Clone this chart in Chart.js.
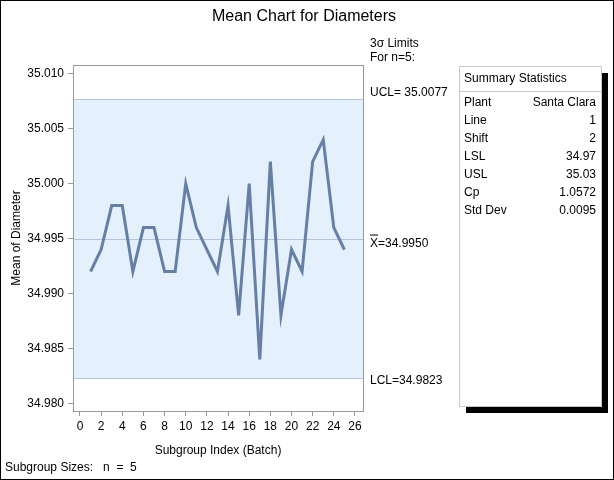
<!DOCTYPE html>
<html>
<head>
<meta charset="utf-8">
<script src="https://cdn.jsdelivr.net/npm/chart.js@4"></script>
<style>
  html, body { margin: 0; padding: 0; background: #fff; }
  #wrap { width: 614px; height: 480px; position: relative; }
</style>
</head>
<body>
<div id="wrap"><canvas id="xbar"></canvas></div>
<script>
const subgroups = [1,2,3,4,5,6,7,8,9,10,11,12,13,14,15,16,17,18,19,20,21,22,23,24,25]
const means = [34.992,34.994,34.998,34.998,34.992,34.996,34.996,34.992,34.992,35.000,
               34.996,34.994,34.992,34.998,34.988,35.000,34.984,35.002,34.988,34.994,
               34.992,35.002,35.004,34.996,34.994]
const limitNames = ["UCL", "Center", "LCL"]
const limitValues = [35.0077, 34.9950, 34.9823]
const statLabels = ["Plant", "Line", "Shift", "LSL", "USL", "Cp", "Std Dev"]
const statValues = ["Santa Clara", "1", "2", "34.97", "35.03", "1.0572", "0.0095"]

const FONT = "'Liberation Sans', Arial, sans-serif"

const extras = {
  id: "extras",
  beforeDatasetsDraw(chart) {
    const ctx = chart.ctx, a = chart.chartArea, y = chart.scales.y
    const yU = y.getPixelForValue(limitValues[0])
    const yL = y.getPixelForValue(limitValues[2])
    const yC = y.getPixelForValue(limitValues[1])
    ctx.save()
    ctx.fillStyle = "#e5f0fd"
    ctx.fillRect(a.left, yU, a.right - a.left, yL - yU)
    ctx.strokeStyle = "#b4c4db"
    ctx.lineWidth = 1
    ;[yU, yC, yL].forEach(p => {
      ctx.beginPath()
      ctx.moveTo(a.left, Math.round(p) + 0.5)
      ctx.lineTo(a.right, Math.round(p) + 0.5)
      ctx.stroke()
    })
    ctx.restore()
  },
  afterDraw(chart) {
    const ctx = chart.ctx, a = chart.chartArea, y = chart.scales.y
    ctx.save()
    // plot frame
    ctx.strokeStyle = "#999"
    ctx.lineWidth = 1
    ctx.strokeRect(Math.round(a.left) + 0.5, Math.round(a.top) + 0.5,
                   Math.round(a.right - a.left), Math.round(a.bottom - a.top))
    // outer border
    ctx.strokeStyle = "#000"
    ctx.strokeRect(0.5, 0.5, 613, 479)

    ctx.fillStyle = "#000"
    ctx.textBaseline = "middle"
    // title
    ctx.font = "16px " + FONT
    ctx.textAlign = "center"
    ctx.fillText("Mean Chart for Diameters", 304, 17)

    // limit labels
    ctx.font = "12px " + FONT
    ctx.textAlign = "left"
    const lx = a.right + 7
    ctx.fillText("3\u03C3 Limits", lx, 44)
    ctx.fillText("For n=5:", lx, 58)
    ctx.fillText("UCL= " + limitValues[0].toFixed(4), lx, y.getPixelForValue(limitValues[0]) - 6)
    const cy = y.getPixelForValue(limitValues[1]) + 5
    const xt = "X"
    ctx.fillText(xt + "=" + limitValues[1].toFixed(4), lx, cy)
    const xw = ctx.measureText(xt).width
    ctx.beginPath()
    ctx.moveTo(lx, cy - 8.5)
    ctx.lineTo(lx + xw, cy - 8.5)
    ctx.strokeStyle = "#000"
    ctx.stroke()
    ctx.fillText("LCL=" + limitValues[2].toFixed(4), lx, y.getPixelForValue(limitValues[2]) + 3)

    // summary box with shadow
    const bx = 459, by = 66, bw = 142, bh = 340
    ctx.fillStyle = "#000"
    ctx.fillRect(bx + 7, by + 7, bw, bh)
    ctx.fillStyle = "#fff"
    ctx.fillRect(bx, by, bw, bh)
    ctx.strokeStyle = "#c8c8c8"
    ctx.strokeRect(bx + 0.5, by + 0.5, bw, bh)
    ctx.beginPath()
    ctx.moveTo(bx, by + 25.5)
    ctx.lineTo(bx + bw, by + 25.5)
    ctx.stroke()
    ctx.fillStyle = "#000"
    ctx.fillText("Summary Statistics", bx + 5, by + 13)
    statLabels.forEach((lab, i) => {
      const ry = by + 37 + i * 18
      ctx.textAlign = "left"
      ctx.fillText(lab, bx + 5, ry)
      ctx.textAlign = "right"
      ctx.fillText(statValues[i], bx + bw - 5, ry)
    })

    // subgroup sizes
    ctx.textAlign = "left"
    ctx.fillText("Subgroup Sizes:   n  =  5", 5, 468)
    ctx.restore()
  }
}

new Chart("xbar", {
  type: "line",
  data: {
    datasets: [{
      data: subgroups.map((s, i) => ({x: s, y: means[i]})),
      borderColor: "#667fa4",
      borderWidth: 3,
      pointRadius: 0,
      fill: false,
      tension: 0
    }]
  },
  options: {
    responsive: true,
    maintainAspectRatio: false,
    animation: false,
    layout: { padding: { left: 5, right: 251, top: 65, bottom: 18 } },
    plugins: { legend: { display: false }, tooltip: { enabled: false } },
    scales: {
      x: {
        type: "linear",
        min: -0.66,
        max: 26.76,
        afterFit(s) { s.height = 51 },
        border: { display: false },
        grid: { drawOnChartArea: false, drawTicks: true, tickLength: 5, color: "#999" },
        ticks: {
          stepSize: 2, includeBounds: false, color: "#000", padding: 3,
          font: { family: FONT, size: 12 },
          maxRotation: 0,
          callback: v => Number.isInteger(v) ? v : ""
        },
        title: { display: true, text: "Subgroup Index (Batch)", color: "#000",
                 font: { family: FONT, size: 12 }, padding: { top: 2 } }
      },
      y: {
        min: 34.9793,
        max: 35.0108,
        afterFit(s) { s.width = 68 },
        border: { display: false },
        grid: { drawOnChartArea: false, drawTicks: true, tickLength: 5, color: "#999" },
        ticks: {
          stepSize: 0.005, includeBounds: false, color: "#000", padding: 4,
          font: { family: FONT, size: 12 },
          callback: v => v.toFixed(3)
        },
        title: { display: true, text: "Mean of Diameter", color: "#000",
                 font: { family: FONT, size: 12 }, padding: { bottom: 0 } }
      }
    }
  },
  plugins: [extras]
})
</script>
</body>
</html>
